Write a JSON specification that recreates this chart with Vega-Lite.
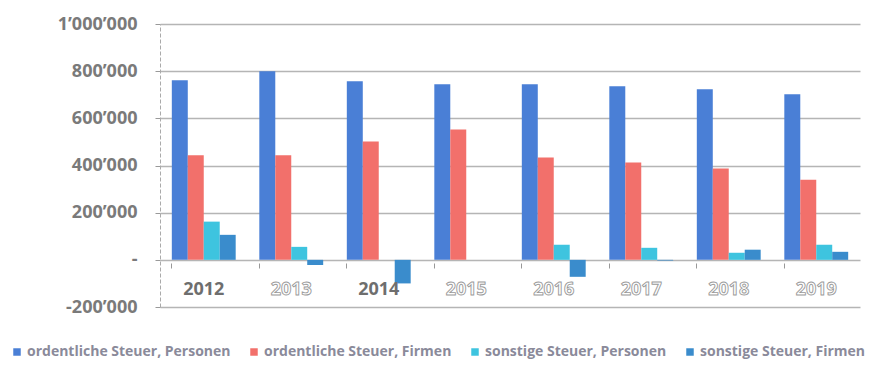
{
  "$schema": "https://vega.github.io/schema/vega-lite/v6.json",
  "width": 700,
  "height": 283,
  "autosize": {"type": "none"},
  "padding": {"left": 160, "top": 24, "right": 9, "bottom": 64},
  "background": "white",
  "config": {"view": {"stroke": null}, "font": "Open Sans"},
  "datasets": {
    "bars": [
      {"year": "2012", "series": "ordentliche Steuer, Personen", "value": 762000},
      {"year": "2012", "series": "ordentliche Steuer, Firmen", "value": 443000},
      {"year": "2012", "series": "sonstige Steuer, Personen", "value": 162000},
      {"year": "2012", "series": "sonstige Steuer, Firmen", "value": 106000},
      {"year": "2013", "series": "ordentliche Steuer, Personen", "value": 800000},
      {"year": "2013", "series": "ordentliche Steuer, Firmen", "value": 443000},
      {"year": "2013", "series": "sonstige Steuer, Personen", "value": 55000},
      {"year": "2013", "series": "sonstige Steuer, Firmen", "value": -22000},
      {"year": "2014", "series": "ordentliche Steuer, Personen", "value": 757000},
      {"year": "2014", "series": "ordentliche Steuer, Firmen", "value": 502000},
      {"year": "2014", "series": "sonstige Steuer, Personen", "value": 0},
      {"year": "2014", "series": "sonstige Steuer, Firmen", "value": -100000},
      {"year": "2015", "series": "ordentliche Steuer, Personen", "value": 745000},
      {"year": "2015", "series": "ordentliche Steuer, Firmen", "value": 553000},
      {"year": "2015", "series": "sonstige Steuer, Personen", "value": 0},
      {"year": "2015", "series": "sonstige Steuer, Firmen", "value": 0},
      {"year": "2016", "series": "ordentliche Steuer, Personen", "value": 745000},
      {"year": "2016", "series": "ordentliche Steuer, Firmen", "value": 434000},
      {"year": "2016", "series": "sonstige Steuer, Personen", "value": 64000},
      {"year": "2016", "series": "sonstige Steuer, Firmen", "value": -72000},
      {"year": "2017", "series": "ordentliche Steuer, Personen", "value": 736000},
      {"year": "2017", "series": "ordentliche Steuer, Firmen", "value": 413000},
      {"year": "2017", "series": "sonstige Steuer, Personen", "value": 51000},
      {"year": "2017", "series": "sonstige Steuer, Firmen", "value": -3000},
      {"year": "2018", "series": "ordentliche Steuer, Personen", "value": 723000},
      {"year": "2018", "series": "ordentliche Steuer, Firmen", "value": 387000},
      {"year": "2018", "series": "sonstige Steuer, Personen", "value": 30000},
      {"year": "2018", "series": "sonstige Steuer, Firmen", "value": 43000},
      {"year": "2019", "series": "ordentliche Steuer, Personen", "value": 702000},
      {"year": "2019", "series": "ordentliche Steuer, Firmen", "value": 340000},
      {"year": "2019", "series": "sonstige Steuer, Personen", "value": 64000},
      {"year": "2019", "series": "sonstige Steuer, Firmen", "value": 34000}
    ],
    "years": [
      {"year": "2012", "style": "solid"},
      {"year": "2013", "style": "outline"},
      {"year": "2014", "style": "solid"},
      {"year": "2015", "style": "outline"},
      {"year": "2016", "style": "outline"},
      {"year": "2017", "style": "outline"},
      {"year": "2018", "style": "outline"},
      {"year": "2019", "style": "outline"}
    ]
  },
  "layer": [
    {
      "data": {"name": "bars"},
      "mark": {"type": "bar"},
      "encoding": {
        "x": {
          "field": "year", "type": "nominal",
          "scale": {"paddingInner": 0.27, "paddingOuter": 0.135},
          "axis": {
            "title": null, "labels": false, "domain": false,
            "ticks": true, "tickSize": 5, "tickColor": "#999", "bandPosition": 0,
            "offset": -44, "grid": false
          }
        },
        "xOffset": {
          "field": "series", "type": "nominal",
          "sort": ["ordentliche Steuer, Personen", "ordentliche Steuer, Firmen", "sonstige Steuer, Personen", "sonstige Steuer, Firmen"],
          "scale": {"paddingInner": 0, "paddingOuter": 0}
        },
        "y": {
          "field": "value", "type": "quantitative",
          "scale": {"domain": [-200000, 1000000], "nice": false, "zero": true},
          "axis": {
            "title": null,
            "values": [-200000, 0, 200000, 400000, 600000, 800000, 1000000],
            "labelExpr": "datum.value == 0 ? '-' : (datum.value < 0 ? '-' : '') + replace(format(abs(datum.value), ','), /,/g, '\u2019')",
            "labelFont": "Open Sans", "labelFontSize": 18, "labelFontWeight": "bold",
            "labelColor": "#7a7a7a", "labelPadding": 18,
            "domain": true, "domainColor": "#aaa", "domainDash": [4, 2],
            "ticks": true, "tickSize": 5, "tickColor": "#999",
            "grid": true, "gridColor": "#b5b5b5", "gridWidth": 1.3
          }
        },
        "color": {
          "field": "series", "type": "nominal",
          "sort": ["ordentliche Steuer, Personen", "ordentliche Steuer, Firmen", "sonstige Steuer, Personen", "sonstige Steuer, Firmen"],
          "scale": {
            "domain": ["ordentliche Steuer, Personen", "ordentliche Steuer, Firmen", "sonstige Steuer, Personen", "sonstige Steuer, Firmen"],
            "range": ["#4a7fd6", "#f2706b", "#3ec4df", "#3a8ccc"]
          },
          "legend": {
            "title": null, "orient": "none", "direction": "horizontal",
            "legendX": -150, "legendY": 321,
            "symbolType": "square", "symbolSize": 56, "symbolStrokeWidth": 0,
            "labelFont": "Open Sans", "labelFontSize": 14, "labelFontWeight": "bold",
            "labelColor": "#8a8a9a", "labelOffset": 3, "columnPadding": 16,
            "labelLimit": 300
          }
        }
      }
    },
    {
      "data": {"name": "years"},
      "mark": {"type": "text", "fontSize": 18, "fontWeight": "bold", "font": "Open Sans", "baseline": "middle", "align": "center"},
      "encoding": {
        "x": {"field": "year", "type": "nominal"},
        "y": {"datum": -130000, "type": "quantitative"},
        "text": {"field": "year"},
        "fill": {
          "condition": {"test": "datum.style == 'solid'", "value": "#6e6e6e"},
          "value": "#ffffff"
        },
        "stroke": {
          "condition": {"test": "datum.style == 'solid'", "value": "#6e6e6e"},
          "value": "#9a9a9a"
        },
        "strokeWidth": {
          "condition": {"test": "datum.style == 'solid'", "value": 0},
          "value": 0.9
        }
      }
    }
  ]
}
